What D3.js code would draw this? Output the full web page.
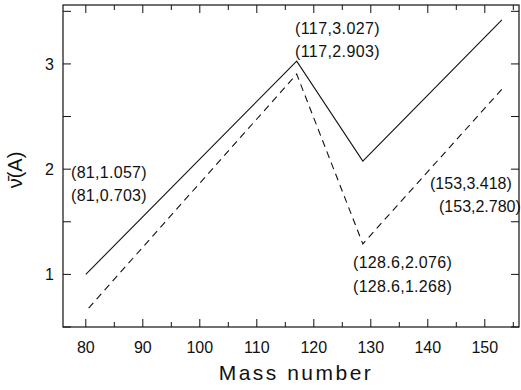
<!DOCTYPE html>
<html>
<head>
<meta charset="utf-8">
<script src="https://cdn.jsdelivr.net/npm/d3@7"></script>
<style>
  html, body { margin: 0; padding: 0; background: #fff; }
  svg text { font-family: "Liberation Sans", Arial, sans-serif; fill: #111; }
</style>
</head>
<body>
<svg id="chart" width="521" height="390"></svg>
<script>
// values
const massSolid = [80, 117, 128.6, 153]
const nuSolid = [1.0, 3.027, 2.076, 3.418]
const massDashed = [80.5, 117, 128.6, 153]
const nuDashed = [0.68, 2.903, 1.29, 2.76]

const xTicks = [80, 90, 100, 110, 120, 130, 140, 150]
const yTicks = [1, 2, 3]

const labels = [
  ['(81,1.057)', '(81,0.703)'],
  ['(117,3.027)', '(117,2.903)'],
  ['(128.6,2.076)', '(128.6,1.268)'],
  ['(153,3.418)', '(153,2.780)']
]

const margin = { top: 5, right: 2, bottom: 63, left: 63 }
const width = 521, height = 390

const x = d3.scaleLinear().domain([76, 156]).range([margin.left, width - margin.right])
const y = d3.scaleLinear().domain([0.5, 3.56]).range([height - margin.bottom, margin.top])

const svg = d3.select('#chart')
const x0 = x.range()[0], x1 = x.range()[1]
const y0 = y.range()[0], y1 = y.range()[1]

// frame
svg.append('rect')
  .attr('x', x0).attr('y', y1)
  .attr('width', x1 - x0).attr('height', y0 - y1)
  .attr('fill', 'none').attr('stroke', '#111').attr('stroke-width', 1.2)

// ticks, all pointing inward
const xMinor = d3.range(80, 156, 5)
const yMinor = d3.range(0.5, 3.56, 0.5)
const tickG = svg.append('g').attr('stroke', '#111').attr('stroke-width', 1)

xMinor.forEach(v => {
  const len = v % 10 === 0 ? 8 : 5
  tickG.append('line').attr('x1', x(v)).attr('x2', x(v)).attr('y1', y0).attr('y2', y0 - len)
  tickG.append('line').attr('x1', x(v)).attr('x2', x(v)).attr('y1', y1).attr('y2', y1 + len)
})
yMinor.forEach(v => {
  tickG.append('line').attr('x1', x0).attr('x2', x0 + 8).attr('y1', y(v)).attr('y2', y(v))
  tickG.append('line').attr('x1', x1).attr('x2', x1 - 8).attr('y1', y(v)).attr('y2', y(v))
})

svg.append('g').selectAll('text')
  .data(xTicks)
  .enter().append('text')
    .attr('x', d => x(d))
    .attr('y', y0 + 25.5)
    .attr('text-anchor', 'middle')
    .style('font-size', '16px')
    .text(d => d)

svg.append('g').selectAll('text')
  .data(yTicks)
  .enter().append('text')
    .attr('x', x0 - 9)
    .attr('y', d => y(d) + 6)
    .attr('text-anchor', 'end')
    .style('font-size', '16px')
    .text(d => d)

// lines
const line = d3.line().x(d => x(d[0])).y(d => y(d[1]))

svg.append('path')
  .datum(d3.zip(massSolid, nuSolid))
  .attr('d', line)
  .attr('fill', 'none').attr('stroke', '#111').attr('stroke-width', 1.1)

svg.append('path')
  .datum(d3.zip(massDashed, nuDashed))
  .attr('d', line)
  .attr('fill', 'none').attr('stroke', '#111').attr('stroke-width', 1.1)
  .attr('stroke-dasharray', '7,5')

// point annotations
const labelPos = [[71, 178], [295, 34], [353, 268], [430, 189]]
const labelPos2 = [[71, 201], [295, 57], [353, 291.5], [439, 211.5]]
const labelSpacing = ['0.3px', '0.4px', '0.3px', '0px']
labels.forEach((pair, i) => {
  svg.append('text')
    .attr('x', labelPos[i][0]).attr('y', labelPos[i][1])
    .style('font-size', '16px')
    .style('letter-spacing', labelSpacing[i])
    .text(pair[0])
  svg.append('text')
    .attr('x', labelPos2[i][0]).attr('y', labelPos2[i][1])
    .style('font-size', '16px')
    .style('letter-spacing', labelSpacing[i])
    .text(pair[1])
})

// axis titles
svg.append('text')
  .attr('x', 296).attr('y', 380)
  .attr('text-anchor', 'middle')
  .style('font-size', '21px')
  .style('letter-spacing', '2.5px')
  .text('Mass number')

svg.append('text')
  .attr('transform', 'translate(22,170) rotate(-90)')
  .attr('text-anchor', 'middle')
  .style('font-size', '20px')
  .text('\u03BD\u0304(A)')
</script>
</body>
</html>
